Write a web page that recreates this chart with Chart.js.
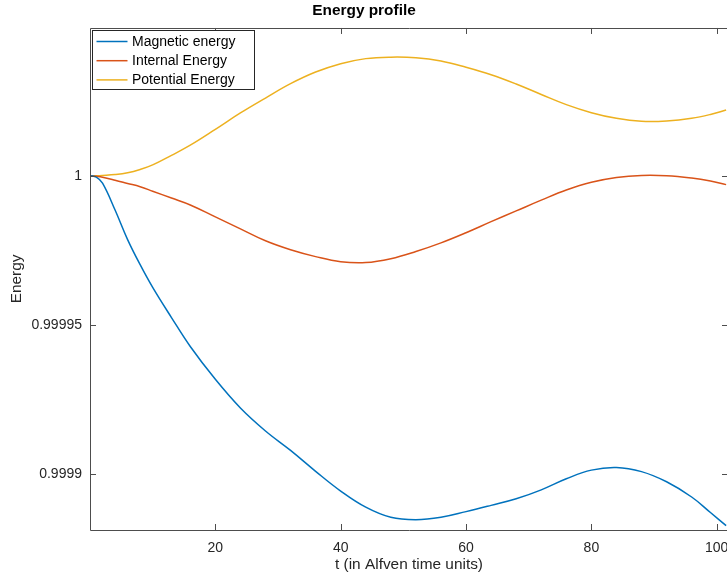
<!DOCTYPE html>
<html><head><meta charset="utf-8">
<script src="https://cdn.jsdelivr.net/npm/chart.js@4/dist/chart.umd.min.js"></script>
<style>
html,body{margin:0;padding:0;background:#fff;overflow:hidden;width:727px;height:581px}
#wrap{position:absolute;left:0;top:0;width:740px;height:581px}
canvas{display:block}
</style>
</head><body><div id="wrap"><canvas id="c" width="740" height="581" style="width:740px;height:581px"></canvas></div>
<script>
const tValues = [0, 1, 2, 4, 6, 8, 10, 13, 16, 20, 24, 28, 32, 36, 40, 44, 48, 52, 56, 60, 64, 68, 72, 76, 80, 84, 88, 92, 96, 99, 101.5];
const magneticEnergy = [1, 0.9999995, 0.9999975, 0.9999885, 0.9999786, 0.9999702, 0.9999626, 0.9999525, 0.9999428, 0.9999318, 0.9999222, 0.9999145, 0.999908, 0.999901, 0.9998944, 0.999889, 0.9998856, 0.9998848, 0.9998856, 0.9998875, 0.9998896, 0.9998918, 0.9998948, 0.9998985, 0.9999014, 0.9999023, 0.9999009, 0.9998975, 0.9998924, 0.9998872, 0.9998828];
const internalEnergy = [1, 0.9999998, 0.9999995, 0.9999985, 0.9999974, 0.9999963, 0.9999948, 0.9999925, 0.9999902, 0.9999862, 0.9999822, 0.9999782, 0.9999752, 0.9999729, 0.9999712, 0.9999709, 0.9999722, 0.9999746, 0.9999775, 0.9999809, 0.9999846, 0.9999882, 0.9999918, 0.9999952, 0.9999978, 0.9999994, 1.0000001, 1.0, 0.9999992, 0.9999982, 0.999997];
const potentialEnergy = [1, 1.0000000, 1.0000001, 1.0000004, 1.000001, 1.0000021, 1.0000036, 1.0000068, 1.0000102, 1.0000155, 1.000021, 1.000026, 1.0000308, 1.0000347, 1.0000375, 1.0000392, 1.0000397, 1.0000395, 1.0000384, 1.0000363, 1.0000338, 1.0000307, 1.0000272, 1.0000238, 1.0000211, 1.0000192, 1.0000182, 1.0000183, 1.0000192, 1.0000205, 1.000022];
const seriesLabels = ['Magnetic energy', 'Internal Energy', 'Potential Energy'];
const seriesColors = ['#0072BD', '#D95319', '#EDB120'];
const xTickValues = [20, 40, 60, 80, 100];
const yTickValues = [0.9999, 0.99995, 1];
const yTickLabels = ['0.9999', '0.99995', '1'];
const chartTitle = 'Energy profile';
const xAxisTitle = 't (in Alfven time units)';
const yAxisTitle = 'Energy';

const FONT = "'Liberation Sans', Arial, Helvetica, sans-serif";
const AXIS_COLOR = '#262626';

const toPoints = arr => tValues.map((t, i) => ({x: t, y: arr[i]}));

const boxAndTicks = {
  id: 'boxAndTicks',
  afterDraw(chart) {
    const {ctx, chartArea: a, scales: {x, y}} = chart;
    const L = 6;
    ctx.save();
    ctx.strokeStyle = '#4d4d4d';
    ctx.lineWidth = 1;
    ctx.beginPath();
    ctx.rect(Math.round(a.left) + 0.5, Math.round(a.top) + 0.5, Math.round(a.right - a.left), Math.round(a.bottom - a.top));
    ctx.stroke();
    ctx.beginPath();
    x.ticks.forEach(tk => {
      const px = Math.round(x.getPixelForValue(tk.value)) + 0.5;
      ctx.moveTo(px, a.bottom); ctx.lineTo(px, a.bottom - L);
      ctx.moveTo(px, a.top); ctx.lineTo(px, a.top + L);
    });
    y.ticks.forEach(tk => {
      const py = Math.round(y.getPixelForValue(tk.value)) + 0.5;
      ctx.moveTo(a.left, py); ctx.lineTo(a.left + L, py);
      ctx.moveTo(a.right, py); ctx.lineTo(a.right - L, py);
    });
    ctx.stroke();
    ctx.restore();
  }
};

const boxLegend = {
  id: 'boxLegend',
  afterDraw(chart) {
    const {ctx, chartArea: a} = chart;
    const left = Math.round(a.left) + 2.5, top = Math.round(a.top) + 2.5;
    const w = 162, h = 59;
    ctx.save();
    ctx.fillStyle = '#fff';
    ctx.fillRect(left, top, w, h);
    ctx.strokeStyle = '#262626';
    ctx.lineWidth = 1;
    ctx.strokeRect(left, top, w, h);
    ctx.font = '14px ' + FONT;
    ctx.textBaseline = 'middle';
    ctx.textAlign = 'left';
    chart.data.datasets.forEach((ds, i) => {
      const yy = top + 11 + i * 19.2;
      ctx.strokeStyle = ds.borderColor;
      ctx.lineWidth = 1.5;
      ctx.beginPath();
      ctx.moveTo(left + 4, yy); ctx.lineTo(left + 35, yy);
      ctx.stroke();
      ctx.fillStyle = '#000';
      ctx.fillText(ds.label, left + 39.5, yy + 0.5);
    });
    ctx.restore();
  }
};

new Chart(document.getElementById('c'), {
  type: 'line',
  data: {
    datasets: [magneticEnergy, internalEnergy, potentialEnergy].map((arr, i) => ({
      label: seriesLabels[i],
      data: toPoints(arr),
      borderColor: seriesColors[i],
      backgroundColor: seriesColors[i],
      borderWidth: 1.5,
      pointRadius: 0,
      fill: false,
      tension: 0.4
    }))
  },
  options: {
    responsive: false,
    animation: false,
    devicePixelRatio: 1,
    layout: {padding: {left: 0, right: 12, top: 0, bottom: 0}},
    plugins: {
      legend: {display: false},
      tooltip: {enabled: false},
      title: {
        display: true, text: chartTitle, color: '#000',
        font: {family: FONT, size: 15.4, weight: 'bold', lineHeight: 1.2},
        padding: {top: 2, bottom: 7.5}
      }
    },
    scales: {
      x: {
        type: 'linear', min: 0, max: 101.8,
        grid: {display: false, drawTicks: false},
        border: {display: false},
        afterBuildTicks: s => { s.ticks = xTickValues.map(v => ({value: v})); },
        afterFit: s => { s.height = 51; s.paddingLeft = 0; s.paddingRight = 0; },
        ticks: {color: AXIS_COLOR, padding: 9.5, maxRotation: 0, font: {family: FONT, size: 14, lineHeight: 1.2},
          callback: v => String(v)},
        title: {display: true, text: xAxisTitle, color: AXIS_COLOR,
          font: {family: FONT, size: 15.4, lineHeight: 1.2}, padding: {top: 0, bottom: 6.8}}
      },
      y: {
        type: 'linear', min: 0.99988135, max: 1.00004946,
        grid: {display: false, drawTicks: false},
        border: {display: false},
        afterBuildTicks: s => { s.ticks = yTickValues.map(v => ({value: v})); },
        afterFit: s => { s.width = 90; s.paddingTop = 0; s.paddingBottom = 0; },
        ticks: {color: AXIS_COLOR, padding: 8, font: {family: FONT, size: 14, lineHeight: 1.2},
          callback: (v, i) => yTickLabels[yTickValues.findIndex(t => Math.abs(t - v) < 1e-9)]},
        title: {display: true, text: yAxisTitle, color: AXIS_COLOR,
          font: {family: FONT, size: 15.4, lineHeight: 1.2}, padding: {top: 8, bottom: 0}}
      }
    }
  },
  plugins: [boxAndTicks, boxLegend]
});
</script>
</body></html>
